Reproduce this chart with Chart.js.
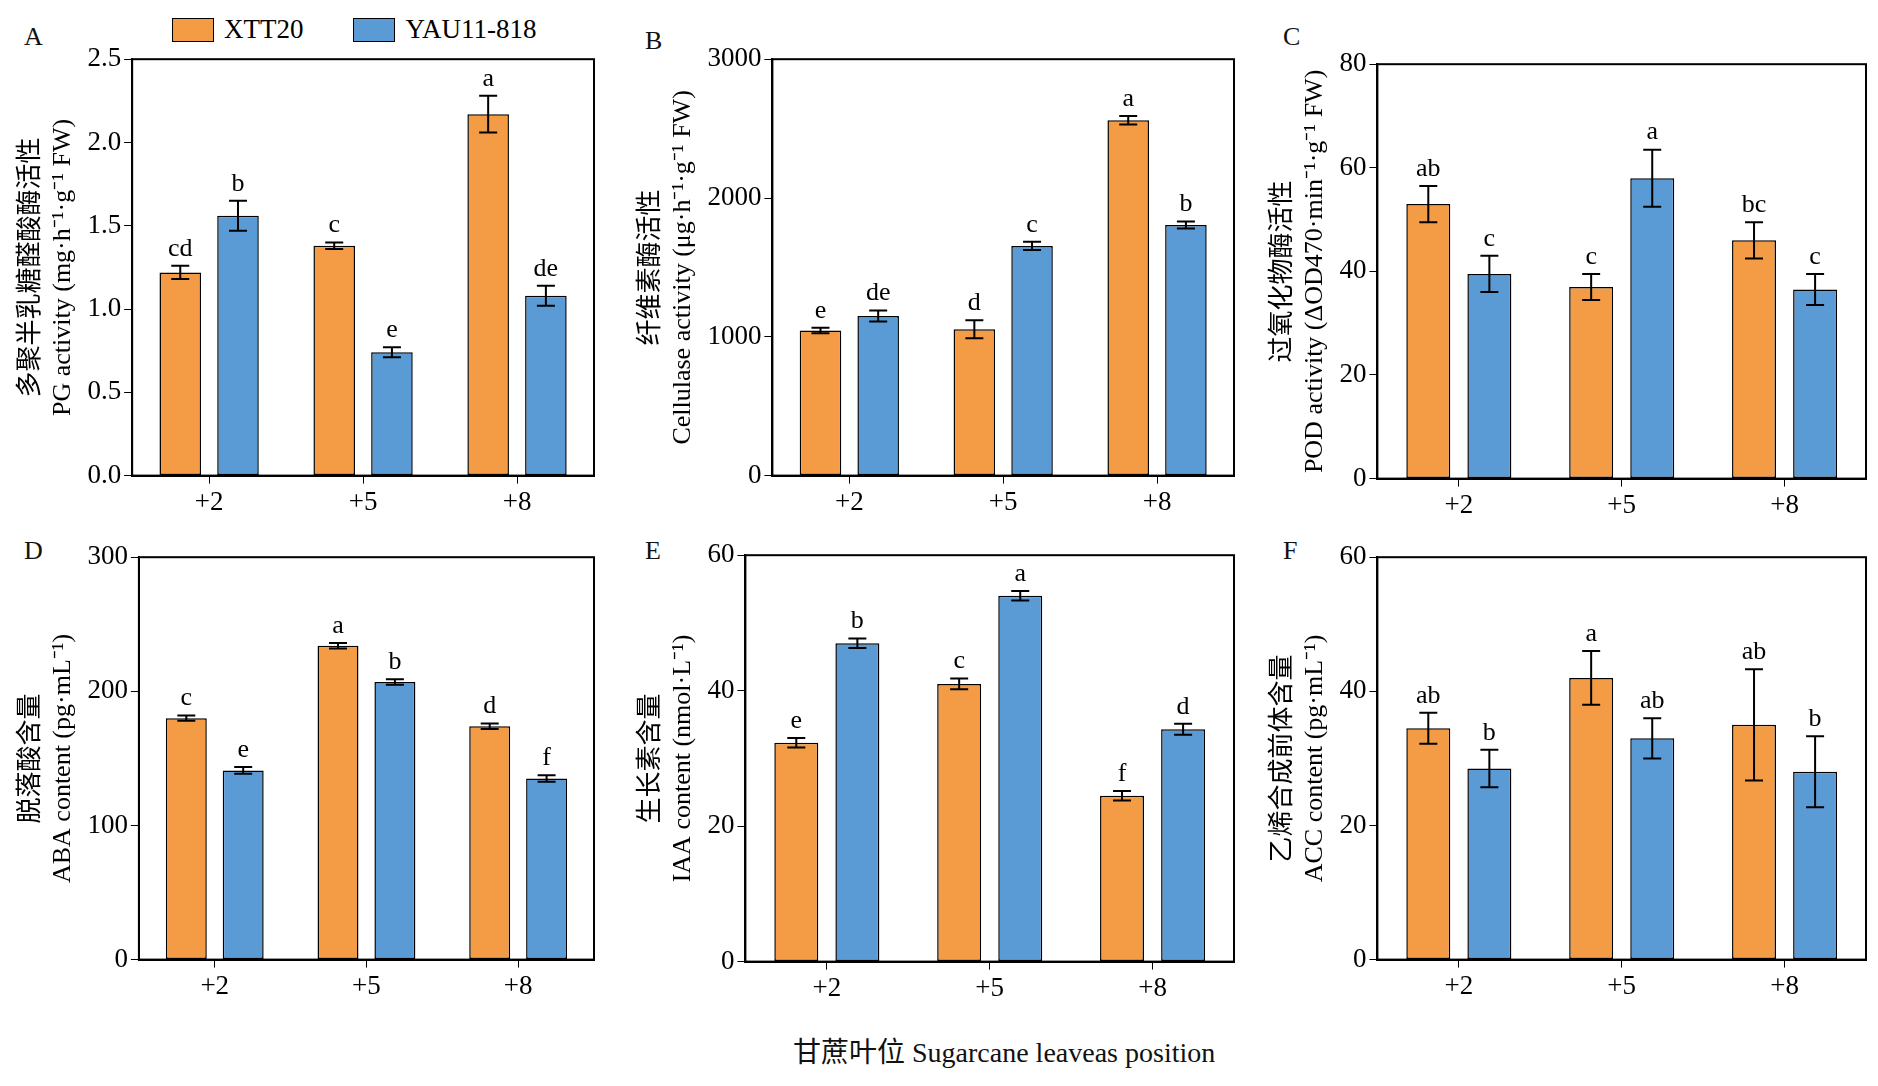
<!DOCTYPE html>
<html><head><meta charset="utf-8">
<script src="https://cdn.jsdelivr.net/npm/chart.js@4"></script>
<style>
body{margin:0;background:#fff;width:1878px;height:1086px;position:relative;overflow:hidden;font-family:"Liberation Serif","Noto Sans CJK SC",serif}
.box{position:absolute}
.lbl{position:absolute;font-size:26px;color:#111}
.leg{position:absolute;top:14px;left:172px;font-size:27px;display:flex;align-items:center;gap:10px}
.sw{width:40px;height:22px;border:1.5px solid #000;display:inline-block}
</style></head><body>
<div class="leg"><span class="sw" style="background:#F39C45"></span>XTT20<span style="width:30px"></span><span class="sw" style="background:#5B9BD5"></span>YAU11-818</div>
<div class="lbl" style="left:24px;top:22px">A</div>
<div class="lbl" style="left:645px;top:26px">B</div>
<div class="lbl" style="left:1283px;top:22px">C</div>
<div class="lbl" style="left:24px;top:536px">D</div>
<div class="lbl" style="left:645px;top:536px">E</div>
<div class="lbl" style="left:1283px;top:536px">F</div>
<div class="lbl" style="left:793px;top:1030px;font-size:28px">甘蔗叶位 Sugarcane leaveas position</div>
<div class="box" style="left:10px;top:40px;width:590px;height:482px"><canvas id="cA"></canvas></div>
<div class="box" style="left:630px;top:40px;width:610px;height:482px"><canvas id="cB"></canvas></div>
<div class="box" style="left:1262px;top:45px;width:610px;height:480px"><canvas id="cC"></canvas></div>
<div class="box" style="left:10px;top:538px;width:590px;height:468px"><canvas id="cD"></canvas></div>
<div class="box" style="left:630px;top:536px;width:610px;height:472px"><canvas id="cE"></canvas></div>
<div class="box" style="left:1262px;top:538px;width:610px;height:468px"><canvas id="cF"></canvas></div>
<script>
var positions = ['+2', '+5', '+8'];

var pgX = [1.22, 1.38, 2.17], pgXErr = [0.04, 0.02, 0.11], pgY = [1.56, 0.74, 1.08], pgYErr = [0.09, 0.03, 0.06];
var pgXLet = ['cd', 'c', 'a'], pgYLet = ['b', 'e', 'de'];
var ceX = [1045, 1055, 2560], ceXErr = [20, 65, 30], ceY = [1150, 1655, 1805], ceYErr = [40, 30, 25];
var ceXLet = ['e', 'd', 'a'], ceYLet = ['de', 'c', 'b'];
var poX = [53, 37, 46], poXErr = [3.5, 2.5, 3.5], poY = [39.5, 58, 36.5], poYErr = [3.5, 5.5, 3];
var poXLet = ['ab', 'c', 'bc'], poYLet = ['c', 'a', 'c'];
var abX = [180, 234, 174], abXErr = [2, 2, 2], abY = [141, 207, 135], abYErr = [2.5, 2, 2.5];
var abXLet = ['c', 'a', 'd'], abYLet = ['e', 'b', 'f'];
var iaX = [32.3, 41, 24.5], iaXErr = [0.7, 0.8, 0.7], iaY = [47, 54, 34.3], iaYErr = [0.7, 0.7, 0.8];
var iaXLet = ['e', 'c', 'f'], iaYLet = ['b', 'a', 'd'];
var acX = [34.5, 42, 35], acXErr = [2.3, 4, 8.3], acY = [28.5, 33, 28], acYErr = [2.8, 3, 5.3];
var acXLet = ['ab', 'a', 'ab'], acYLet = ['b', 'ab', 'b'];

var FONT = "'Liberation Serif','Noto Sans CJK SC',serif";

var errPlugin = {
    id: 'err',
    afterDatasetsDraw: (chart) => {
        var ctx = chart.ctx, a = chart.chartArea;
        ctx.save();
        chart.data.datasets.forEach((ds, i) => {
            chart.getDatasetMeta(i).data.forEach((bar, j) => {
                var y = chart.scales.y;
                var top = y.getPixelForValue(ds.data[j] + ds.err[j]);
                var bot = y.getPixelForValue(ds.data[j] - ds.err[j]);
                ctx.strokeStyle = '#000'; ctx.lineWidth = 2;
                ctx.beginPath();
                ctx.moveTo(bar.x, top); ctx.lineTo(bar.x, bot);
                ctx.moveTo(bar.x - 9, top); ctx.lineTo(bar.x + 9, top);
                ctx.moveTo(bar.x - 9, bot); ctx.lineTo(bar.x + 9, bot);
                ctx.stroke();
                ctx.fillStyle = '#000'; ctx.font = '26px ' + FONT;
                ctx.textAlign = 'center'; ctx.textBaseline = 'bottom';
                ctx.fillText(ds.letters[j], bar.x, top - 4);
            });
        });
        ctx.lineWidth = 2; ctx.strokeStyle = '#000';
        ctx.strokeRect(a.left, a.top, a.right - a.left, a.bottom - a.top);
        ctx.restore();
    }
};

var makeChart = (id, xs, xe, xl, ys, ye, yl, max, step, title) => {
    new Chart(document.getElementById(id), {
        type: 'bar',
        data: {
            labels: positions,
            datasets: [
                { data: xs, err: xe, letters: xl, backgroundColor: '#F39C45', borderColor: '#000', borderWidth: 1.5, borderSkipped: false },
                { data: ys, err: ye, letters: yl, backgroundColor: '#5B9BD5', borderColor: '#000', borderWidth: 1.5, borderSkipped: false }
            ]
        },
        options: {
            responsive: true, maintainAspectRatio: false, animation: false,
            datasets: { bar: { barPercentage: 0.72, categoryPercentage: 0.75 } },
            layout: { padding: { top: 10, right: 6 } },
            scales: {
                x: { grid: { display: true, drawOnChartArea: false, drawTicks: true, tickLength: 8, color: '#000', offset: false }, border: { color: '#000', width: 2 },
                     ticks: { color: '#000', font: { size: 27, family: FONT } } },
                y: { min: 0, max: max, grid: { display: true, drawOnChartArea: false, drawTicks: true, tickLength: 8, color: '#000' },
                     border: { color: '#000', width: 2 },
                     ticks: { stepSize: step, color: '#000', font: { size: 27, family: FONT }, callback: v => String(v) + (step < 1 && v % 1 == 0 ? '.0' : '') },
                     title: { display: true, text: title, color: '#000', font: { size: 26, family: FONT }, padding: 6 } }
            },
            plugins: { legend: { display: false }, tooltip: { enabled: false } }
        },
        plugins: [errPlugin]
    });
};

makeChart('cA', pgX, pgXErr, pgXLet, pgY, pgYErr, pgYLet, 2.5, 0.5, ['多聚半乳糖醛酸酶活性', 'PG activity (mg·h⁻¹·g⁻¹ FW)']);
makeChart('cB', ceX, ceXErr, ceXLet, ceY, ceYErr, ceYLet, 3000, 1000, ['纤维素酶活性', 'Cellulase activity (μg·h⁻¹·g⁻¹ FW)']);
makeChart('cC', poX, poXErr, poXLet, poY, poYErr, poYLet, 80, 20, ['过氧化物酶活性', 'POD activity (ΔOD470·min⁻¹·g⁻¹ FW)']);
makeChart('cD', abX, abXErr, abXLet, abY, abYErr, abYLet, 300, 100, ['脱落酸含量', 'ABA content (pg·mL⁻¹)']);
makeChart('cE', iaX, iaXErr, iaXLet, iaY, iaYErr, iaYLet, 60, 20, ['生长素含量', 'IAA content (nmol·L⁻¹)']);
makeChart('cF', acX, acXErr, acXLet, acY, acYErr, acYLet, 60, 20, ['乙烯合成前体含量', 'ACC content (pg·mL⁻¹)']);
</script></body></html>
